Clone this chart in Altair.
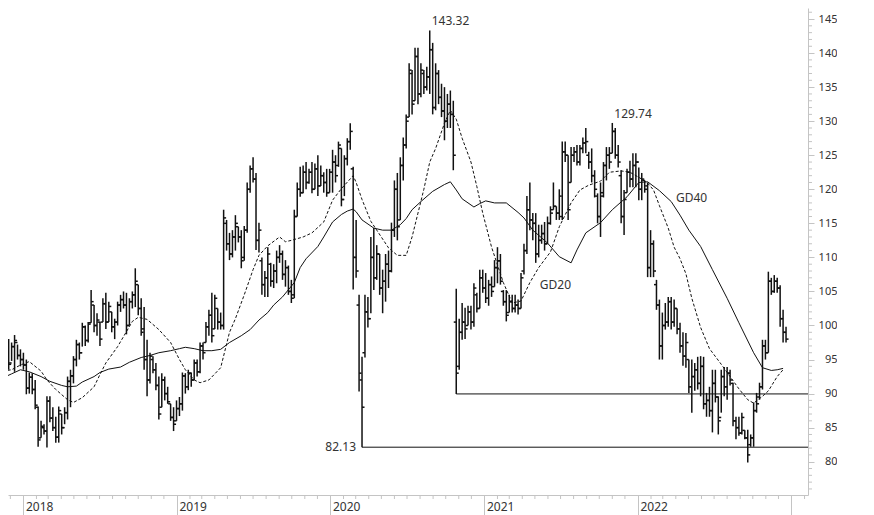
import altair as alt
import pandas as pd

# ---------------- data (weekly OHLC) ----------------
first_week = "2017-11-13"

high = [97.5, 98.3, 98.0, 97.5, 98.6, 97.2, 96.5, 96.0, 95.0, 93.1,
        93.0, 92.0, 88.1, 86.0, 85.5, 89.6, 89.6, 88.0, 86.6, 88.1,
        87.0, 88.0, 92.5, 93.5, 95.5, 97.9, 97.5, 100.4, 100.0, 100.5,
        105.2, 103.0, 101.8, 100.5, 104.0, 104.8, 103.5, 102.0, 101.0, 103.5,
        104.5, 105.0, 104.8, 104.0, 105.0, 108.4, 106.0, 104.0, 102.7, 97.9,
        96.0, 95.5, 94.5, 92.5, 93.0, 92.5, 91.0, 88.5, 88.0, 89.0,
        89.5, 93.1, 93.0, 93.5, 93.1, 95.0, 95.0, 97.5, 97.5, 100.5,
        102.3, 104.8, 104.5, 102.5, 101.9, 117.0, 115.5, 113.6, 114.0, 116.2,
        114.5, 114.0, 114.6, 121.0, 123.5, 124.7, 122.4, 115.1, 110.0, 108.0,
        111.5, 109.2, 109.0, 111.0, 111.8, 111.0, 109.6, 108.8, 106.7, 117.0,
        121.0, 123.3, 123.5, 124.0, 123.0, 124.0, 123.8, 125.0, 123.5, 122.5,
        123.0, 123.0, 125.8, 125.0, 127.0, 126.0, 125.0, 127.5, 129.7, 123.3,
        115.5, 104.5, 95.4, 104.5, 104.2, 113.0, 114.3, 111.8, 110.5, 108.2,
        110.5, 111.0, 115.1, 121.3, 122.4, 124.7, 127.6, 131.0, 138.5, 137.5,
        140.8, 140.8, 138.5, 137.5, 138.0, 143.32, 141.5, 138.5, 137.5, 135.5,
        135.0, 134.0, 134.5, 133.0, 105.4, 101.0, 103.3, 102.6, 102.9, 102.9,
        106.2, 104.8, 108.2, 108.2, 107.7, 106.7, 107.2, 109.6, 111.5, 110.5,
        105.2, 105.2, 104.5, 104.5, 104.5, 103.8, 107.7, 112.0, 119.0, 121.0,
        116.5, 116.5, 114.8, 114.8, 115.2, 116.0, 117.5, 121.0, 117.5, 120.0,
        127.0, 127.0, 125.0, 126.2, 126.2, 126.5, 126.5, 127.6, 129.0, 125.5,
        126.0, 122.8, 119.4, 121.0, 124.0, 126.2, 126.2, 129.74, 129.0, 126.5,
        122.8, 119.9, 123.0, 124.2, 125.3, 125.3, 123.2, 122.4, 121.3, 121.0,
        114.0, 112.5, 106.7, 103.8, 101.9, 103.3, 104.2, 104.2, 103.8, 102.5,
        100.4, 99.0, 98.9, 95.0, 95.0, 94.5, 95.4, 95.5, 95.4, 90.1,
        91.0, 93.5, 93.5, 89.6, 93.5, 93.9, 93.9, 93.5, 91.6, 86.6,
        86.6, 87.2, 84.6, 84.7, 84.0, 88.7, 90.1, 91.6, 97.9, 97.9,
        107.9, 107.0, 107.4, 107.0, 105.9, 102.3, 99.8]

low = [95.0, 94.5, 93.5, 94.8, 93.2, 95.0, 94.0, 93.5, 89.9, 90.0,
       89.9, 87.7, 82.2, 83.5, 84.0, 82.1, 85.8, 84.5, 82.8, 82.8,
       84.0, 85.5, 86.2, 88.0, 91.5, 94.0, 95.0, 96.9, 97.0, 97.5,
       100.4, 99.0, 98.5, 97.0, 100.5, 99.5, 100.5, 99.0, 98.0, 100.0,
       102.0, 102.5, 98.7, 100.0, 102.5, 102.7, 101.5, 98.5, 93.5, 89.6,
       91.5, 93.0, 90.5, 86.2, 88.0, 89.0, 88.5, 86.0, 84.5, 86.0,
       86.7, 87.5, 90.0, 90.5, 91.0, 92.0, 92.5, 93.0, 95.0, 97.5,
       98.5, 97.5, 99.5, 99.4, 99.4, 99.4, 111.0, 109.6, 110.0, 111.0,
       112.2, 108.4, 109.5, 113.6, 119.5, 121.0, 111.1, 110.7, 104.5, 104.2,
       104.2, 105.7, 105.5, 106.2, 109.2, 106.7, 105.7, 104.5, 103.3, 104.0,
       116.0, 118.9, 119.4, 120.0, 120.8, 119.4, 120.0, 119.0, 120.5, 119.5,
       118.9, 119.5, 119.5, 121.0, 123.3, 117.5, 119.0, 123.5, 125.8, 105.3,
       107.0, 90.3, 82.13, 95.3, 99.7, 101.8, 105.2, 106.7, 104.5, 101.8,
       103.5, 105.5, 107.8, 113.0, 112.5, 115.5, 121.3, 126.0, 130.6, 131.0,
       133.0, 132.5, 133.5, 134.0, 134.5, 134.0, 131.0, 131.6, 132.5, 130.6,
       127.2, 129.0, 129.0, 122.8, 89.95, 93.5, 97.9, 98.0, 100.0, 99.4,
       99.8, 101.9, 102.5, 104.8, 103.3, 102.9, 104.2, 105.7, 106.2, 106.0,
       102.9, 100.6, 101.9, 101.9, 101.9, 101.6, 102.5, 107.5, 110.5, 114.0,
       112.5, 109.2, 110.0, 112.0, 111.0, 112.0, 114.8, 117.0, 115.5, 115.5,
       115.5, 124.0, 115.5, 121.0, 124.0, 123.5, 123.5, 125.3, 125.3, 123.0,
       121.0, 118.8, 115.0, 113.0, 118.8, 121.3, 123.0, 125.3, 124.5, 123.2,
       115.0, 113.3, 119.5, 120.3, 120.3, 120.3, 118.4, 118.4, 119.5, 107.1,
       107.1, 107.1, 102.3, 95.0, 95.0, 99.4, 99.8, 99.4, 99.8, 98.7,
       96.0, 94.1, 93.8, 90.1, 87.2, 90.4, 90.6, 89.6, 87.7, 86.6,
       86.6, 84.3, 88.7, 84.0, 87.2, 89.6, 89.1, 91.2, 85.2, 83.3,
       83.8, 84.0, 83.3, 79.9, 82.2, 82.2, 87.2, 89.1, 90.6, 95.0,
       96.0, 104.5, 104.8, 104.8, 99.8, 97.5, 97.5]

open_ = [96.8, 96.0, 97.6, 94.5, 96.9, 97.5, 95.6, 95.0, 94.2, 90.8,
         92.4, 90.6, 88.0, 83.5, 85.0, 84.5, 88.9, 86.4, 85.0, 83.6,
         87.0, 85.0, 87.2, 91.8, 92.6, 95.0, 97.2, 96.0, 99.8, 97.8,
         100.4, 103.0, 100.0, 100.5, 100.5, 103.2, 100.5, 102.0, 99.8, 100.5,
         103.0, 103.8, 103.0, 100.0, 103.5, 104.5, 106.0, 102.5, 99.5, 95.0,
         92.0, 95.0, 93.5, 91.2, 88.0, 92.0, 90.0, 88.5, 86.5, 86.0,
         87.8, 88.5, 92.6, 91.0, 93.0, 92.0, 94.5, 93.2, 97.0, 97.5,
         99.8, 101.5, 99.5, 102.5, 100.5, 100.0, 115.0, 112.0, 110.5, 113.0,
         114.5, 113.0, 110.0, 114.0, 120.0, 123.0, 121.5, 112.5, 109.5, 106.0,
         107.0, 109.0, 106.5, 108.0, 110.0, 110.5, 107.5, 108.5, 105.0, 104.5,
         116.0, 120.0, 119.5, 122.5, 121.0, 122.5, 120.0, 123.0, 120.5, 122.0,
         121.0, 119.5, 122.5, 124.0, 123.5, 126.0, 118.5, 124.5, 127.0, 123.0,
         110.0, 103.0, 92.0, 96.0, 102.0, 101.0, 110.0, 107.0, 110.5, 105.5,
         106.5, 109.0, 108.0, 114.0, 120.0, 115.5, 123.5, 126.5, 130.6, 137.0,
         133.0, 139.5, 134.0, 137.0, 135.0, 136.5, 140.5, 132.0, 137.0, 133.5,
         131.5, 130.0, 132.5, 131.0, 100.5, 94.0, 99.0, 100.5, 100.0, 102.0,
         100.5, 104.5, 102.5, 107.0, 105.5, 104.0, 106.0, 105.7, 108.5, 109.5,
         105.0, 103.5, 101.9, 103.5, 102.5, 103.0, 102.5, 108.0, 111.0, 117.0,
         115.5, 115.0, 110.5, 112.5, 113.5, 112.0, 115.0, 117.0, 117.5, 116.5,
         116.0, 125.5, 125.0, 121.0, 125.0, 125.5, 124.0, 126.0, 126.8, 125.0,
         124.0, 122.0, 119.0, 116.0, 119.0, 123.5, 125.0, 125.3, 128.5, 125.0,
         122.0, 116.0, 119.5, 122.5, 121.5, 123.5, 124.0, 120.0, 121.3, 120.5,
         108.5, 112.0, 106.0, 103.0, 97.0, 100.0, 100.5, 103.5, 100.5, 102.5,
         99.5, 97.0, 95.5, 95.0, 91.0, 92.5, 93.5, 91.5, 94.0, 88.5,
         89.0, 87.5, 91.5, 89.5, 86.5, 92.5, 91.0, 93.0, 91.5, 86.0,
         85.0, 84.2, 84.6, 83.5, 82.5, 83.5, 87.5, 89.5, 91.0, 97.0,
         96.0, 106.5, 105.0, 106.5, 105.5, 101.0, 99.0]

close = [96.0, 97.6, 94.3, 96.9, 97.8, 95.6, 95.0, 94.2, 90.8, 92.4,
         90.6, 88.3, 83.2, 85.2, 84.5, 88.9, 86.4, 85.0, 83.6, 87.5,
         85.0, 87.2, 91.8, 92.6, 95.0, 97.2, 96.0, 99.8, 97.8, 100.2,
         103.5, 100.0, 100.8, 98.0, 103.2, 100.5, 102.8, 99.8, 100.5, 103.0,
         103.8, 103.0, 100.0, 103.5, 104.5, 106.5, 102.5, 99.0, 95.0, 92.0,
         95.5, 93.5, 91.2, 87.0, 92.0, 90.0, 88.8, 86.5, 85.5, 87.8,
         88.5, 92.6, 91.0, 93.0, 92.0, 94.5, 93.2, 97.0, 96.0, 99.8,
         101.5, 98.5, 104.0, 100.5, 100.0, 115.8, 112.0, 110.5, 113.0, 115.0,
         113.0, 109.5, 114.0, 120.0, 123.0, 121.5, 112.5, 114.0, 106.0, 107.0,
         110.5, 106.5, 108.0, 110.0, 110.5, 107.5, 108.5, 105.0, 104.0, 116.0,
         120.0, 119.5, 122.5, 121.0, 122.5, 120.0, 123.0, 120.5, 122.0, 121.0,
         119.5, 122.5, 124.0, 122.0, 126.5, 118.5, 124.5, 127.0, 128.5, 110.0,
         108.0, 93.0, 88.0, 102.0, 101.0, 110.0, 107.0, 110.5, 105.5, 106.5,
         109.0, 108.0, 114.0, 120.0, 114.5, 123.5, 126.5, 130.0, 137.5, 132.5,
         139.5, 134.0, 137.5, 135.0, 136.5, 140.5, 132.0, 137.0, 133.5, 131.5,
         130.0, 132.5, 131.0, 125.0, 93.0, 99.0, 100.5, 99.5, 102.0, 100.5,
         105.5, 102.5, 107.0, 105.5, 104.0, 106.0, 105.0, 108.5, 109.5, 106.5,
         103.5, 101.5, 103.5, 102.5, 103.0, 102.5, 107.0, 111.0, 117.0, 115.5,
         115.0, 110.5, 112.5, 113.5, 112.0, 115.0, 116.5, 117.5, 116.5, 119.0,
         125.5, 125.0, 117.0, 125.0, 125.5, 124.0, 126.0, 126.8, 127.0, 124.0,
         122.0, 120.0, 116.0, 119.5, 123.5, 125.0, 124.0, 128.5, 125.0, 124.0,
         116.0, 118.5, 122.5, 121.5, 123.5, 124.0, 120.0, 121.5, 120.0, 108.5,
         112.0, 108.0, 103.0, 97.0, 100.0, 100.5, 103.5, 100.5, 102.5, 99.5,
         97.0, 95.5, 97.5, 91.0, 92.5, 93.5, 91.5, 94.0, 88.5, 89.0,
         87.5, 91.5, 89.5, 86.0, 92.5, 91.0, 93.0, 92.0, 86.0, 85.0,
         84.2, 86.5, 83.5, 81.0, 83.5, 87.5, 88.5, 91.0, 97.0, 96.0,
         106.5, 105.0, 106.5, 105.5, 101.0, 99.0, 98.0]

# moving averages (week index -> value)
gd20_week = [0, 3, 6, 9, 13, 15, 18, 22, 24, 27, 31, 33, 35, 39, 42, 44, 46, 49, 53, 57,
             60, 62, 65, 67, 70, 74, 77, 79, 82, 85, 87, 90, 94, 96, 98, 102, 105, 109, 112, 115,
             119, 120, 122, 125, 127, 131, 134, 137, 139, 141, 143, 145, 147, 150, 152, 154, 156, 159, 161, 163,
             166, 170, 173, 176, 179, 182, 186, 189, 193, 196, 199, 203, 206, 210, 213, 217, 219, 221, 223, 226,
             228, 230, 232, 234, 237, 240, 244, 247, 250, 253, 255, 258, 260, 263, 265]
gd20_val = [93.3, 93.5, 94.2, 94.7, 93.3, 92.0, 90.6, 89.1, 88.7, 89.4, 91.0, 92.8, 94.5, 96.9, 99.1, 100.6, 101.2, 100.9, 99.4, 97.5,
            95.0, 93.5, 92.0, 91.6, 92.0, 93.8, 99.0, 101.0, 104.5, 108.2, 110.3, 111.7, 113.0, 112.3, 112.5, 113.0, 113.6, 115.2, 118.4, 120.1,
            122.0, 121.0, 118.5, 115.3, 114.0, 111.4, 110.3, 110.3, 113.0, 116.5, 120.0, 124.0, 126.0, 129.7, 131.6, 130.3, 127.5, 124.0, 120.4, 116.5,
            111.5, 106.3, 103.3, 103.6, 106.3, 108.5, 110.8, 114.5, 118.0, 119.9, 120.6, 121.2, 122.5, 122.7, 122.5, 121.5, 120.9, 119.9, 117.6, 114.3,
            111.5, 109.8, 107.6, 104.0, 99.7, 96.6, 94.3, 92.5, 90.7, 89.1, 88.6, 89.6, 90.4, 92.5, 93.5]

gd40_week = [0, 3, 6, 9, 13, 16, 20, 22, 25, 27, 31, 33, 36, 40, 43, 47, 50, 53, 57, 60,
             62, 65, 68, 71, 74, 77, 81, 84, 87, 90, 92, 95, 99, 101, 103, 107, 109, 112, 115, 117,
             119, 120, 122, 126, 129, 132, 135, 137, 139, 142, 146, 150, 152, 154, 156, 160, 162, 164, 167, 171,
             175, 177, 180, 185, 189, 193, 195, 198, 203, 207, 212, 216, 219, 223, 227, 230, 233, 237, 241, 246,
             250, 255, 258, 261, 263, 265]
gd40_val = [92.3, 92.9, 93.5, 93.2, 92.5, 91.8, 91.2, 91.0, 91.1, 91.7, 92.5, 93.1, 93.6, 93.9, 94.6, 95.3, 95.6, 96.0, 96.3, 96.6,
            96.8, 96.6, 96.3, 96.3, 96.5, 97.5, 98.5, 99.4, 100.8, 101.9, 103.0, 104.2, 106.3, 108.5, 109.8, 111.6, 113.0, 115.2, 116.3, 116.8,
            117.1, 116.7, 115.5, 114.3, 114.0, 114.0, 114.8, 115.7, 117.0, 118.2, 119.7, 120.7, 121.1, 119.9, 118.6, 117.4, 117.9, 118.3, 118.0, 118.0,
            116.6, 115.8, 114.0, 112.1, 110.1, 109.2, 111.1, 113.6, 115.1, 117.0, 118.9, 121.0, 121.1, 119.8, 118.2, 116.2, 114.0, 111.6, 108.2, 104.0,
            100.4, 96.0, 93.8, 93.4, 93.5, 93.7]

# annotations
peak_text = ["143.32", "129.74"]
peak_week = [145, 207]
peak_val = [143.32, 129.74]
low_text = ["82.13"]
low_week = [122]
low_val = [82.13]
support_week = [122, 154]
support_val = [82.13, 89.95]
ma_label_text = ["GD20", "GD40"]
ma_label_week = [182.4, 228.6]
ma_label_val = [105.9, 118.7]

year_ticks = [2018, 2019, 2020, 2021, 2022, 2023]
y_ticks = list(range(80, 150, 5))

# ---------------- helpers ----------------
base = pd.Timestamp(first_week)


def wk(i):
    return (base + pd.Timedelta(days=7 * i)).strftime("%Y-%m-%dT%H:%M:%S")


n = len(high)
bars = pd.DataFrame({
    "date": [wk(i) for i in range(n)],
    "high": high, "low": low, "open": open_, "close": close,
})
gd20 = pd.DataFrame({"date": [wk(i) for i in gd20_week], "v": gd20_val})
gd40 = pd.DataFrame({"date": [wk(i) for i in gd40_week], "v": gd40_val})
peaks = pd.DataFrame({"date": [wk(i) for i in peak_week], "v": peak_val, "t": peak_text})
lows = pd.DataFrame({"date": [wk(i) for i in low_week], "v": low_val, "t": low_text})
supp = pd.DataFrame({"date": [wk(i) for i in support_week], "v": support_val})
malab = pd.DataFrame({"date": [wk(i) for i in ma_label_week], "v": ma_label_val, "t": ma_label_text})

months = []
for y in range(2017, 2024):
    for m in range(1, 13):
        if m == 1:
            continue
        ts = pd.Timestamp(year=y, month=m, day=1)
        if pd.Timestamp("2017-11-26") <= ts <= pd.Timestamp("2023-02-08"):
            months.append(ts.strftime("%Y-%m-%dT%H:%M:%S"))
minor_x = pd.DataFrame({"date": months})
minor_y = pd.DataFrame({"v": [v for v in range(76, 147) if v % 5 != 0 or v < 80]})

W, H = 800, 487
INK = "#111111"
AX = "#c4c4c4"
FONT = "Noto Sans"

xscale = alt.Scale(domain=[alt.DateTime(year=2017, month=11, date=25, hours=9, minutes=21),
                           alt.DateTime(year=2023, month=2, date=9, hours=5, minutes=30)])
yscale = alt.Scale(domain=[75.11, 146.62], nice=False, zero=False)

xaxis = alt.Axis(
    values=[alt.DateTime(year=y, month=1, date=1) for y in year_ticks],
    format="%Y", labelExpr="datum.label == '2023' ? '' : datum.label",
    tickSize=20, tickColor=AX, domainColor=AX, labelAlign="left", labelPadding=-14,
    labelOffset=2, labelFont=FONT, labelFontSize=12, labelColor="#333333",
    labelFlush=False, labelOverlap=False, grid=False, title=None,
)
yaxis = alt.Axis(
    orient="right", values=y_ticks, tickSize=6, tickColor=AX, domainColor=AX,
    labelAlign="right", labelPadding=23, labelBaseline="middle", labelFont=FONT,
    labelFontSize=11, labelColor="#333333", grid=False, title=None,
)

X = alt.X("date:T", scale=xscale, axis=xaxis)
Y = lambda f: alt.Y(f, scale=yscale, axis=yaxis)

hl = alt.Chart(bars).mark_rule(color=INK, strokeWidth=1.5, clip=True).encode(
    x=X, y=Y("low:Q"), y2="high:Q")
op = alt.Chart(bars).mark_rule(color=INK, strokeWidth=1.5, clip=True, xOffset=-2.5, x2Offset=0).encode(
    x=X, x2="date:T", y=Y("open:Q"))
cl = alt.Chart(bars).mark_rule(color=INK, strokeWidth=1.5, clip=True, xOffset=0, x2Offset=2.5).encode(
    x=X, x2="date:T", y=Y("close:Q"))

l40 = alt.Chart(gd40).mark_line(color=INK, strokeWidth=1, clip=True).encode(x=X, y=Y("v:Q"))
l20 = alt.Chart(gd20).mark_line(color=INK, strokeWidth=1, strokeDash=[3, 2], clip=True).encode(x=X, y=Y("v:Q"))

sup = alt.Chart(supp).mark_rule(color=INK, strokeWidth=1, clip=True).encode(
    x=X, x2=alt.value(W), y=Y("v:Q"))

pk = alt.Chart(peaks).mark_text(align="left", baseline="middle", dx=2, dy=-9, font=FONT,
                                fontSize=12, color="#333333").encode(x=X, y=Y("v:Q"), text="t:N")
lw = alt.Chart(lows).mark_text(align="right", baseline="middle", dx=-6, dy=0, font=FONT,
                               fontSize=12, color="#333333").encode(x=X, y=Y("v:Q"), text="t:N")
ml = alt.Chart(malab).mark_text(align="left", baseline="middle", font=FONT,
                                fontSize=12, color="#333333").encode(x=X, y=Y("v:Q"), text="t:N")

mx = alt.Chart(minor_x).mark_rule(color=AX, strokeWidth=1).encode(
    x=X, y=alt.value(H), y2=alt.value(H + 4))
my = alt.Chart(minor_y).mark_rule(color=AX, strokeWidth=1).encode(
    y=Y("v:Q"), x=alt.value(W), x2=alt.value(W + 4))

chart = alt.layer(sup, l40, l20, hl, op, cl, pk, lw, ml, mx, my).properties(
    width=W, height=H, padding={"left": 0, "top": 0, "right": 0, "bottom": 0},
    background="white",
).configure_view(stroke=None)

chart.save("out.html", embed_options={"renderer": "svg", "actions": False})
